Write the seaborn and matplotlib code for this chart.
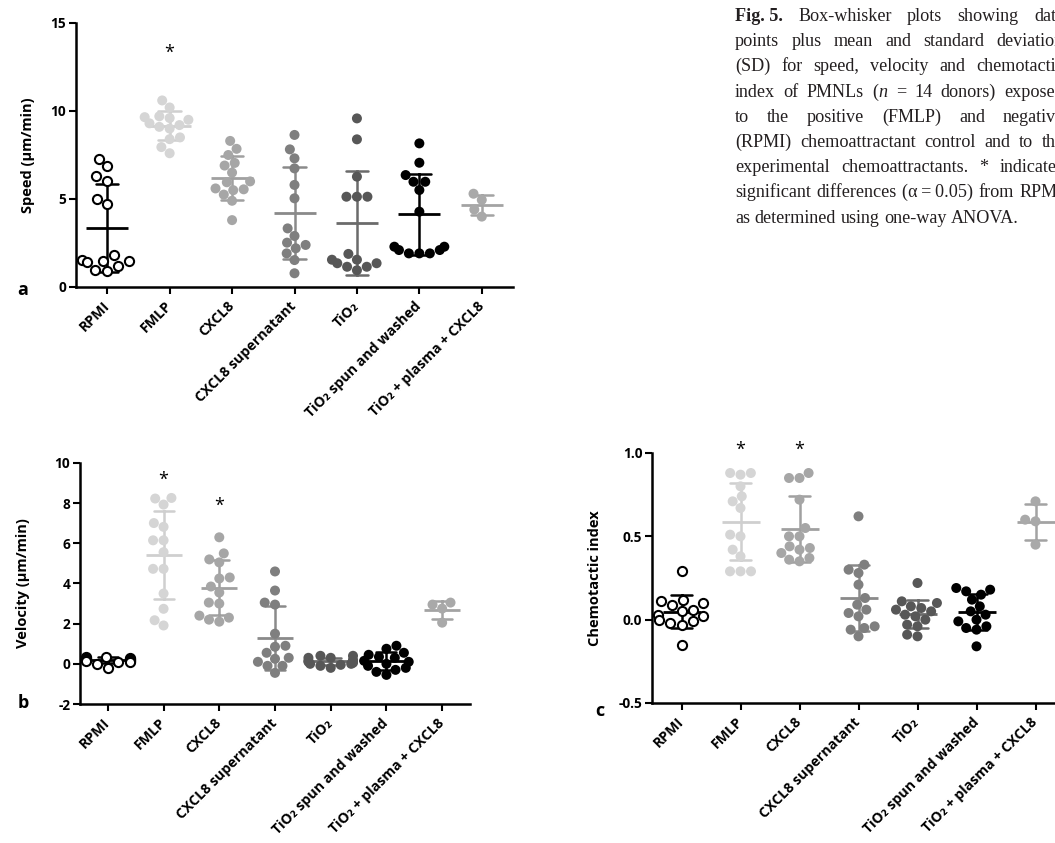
import warnings
warnings.filterwarnings("ignore")
import numpy as np
import pandas as pd
import matplotlib
matplotlib.use("Agg")
import matplotlib.pyplot as plt
from matplotlib.ticker import FormatStrFormatter
import seaborn as sns

# ---------------- data ----------------
categories = ["RPMI", "FMLP", "CXCL8", "CXCL8 supernatant", "TiO\u2082",
              "TiO\u2082 spun and washed", "TiO\u2082 + plasma + CXCL8"]

speed_rpmi = [7.3, 6.85, 6.3, 6.05, 5.0, 4.7, 1.8, 1.55, 1.5, 1.45, 1.4, 1.2, 0.95, 0.9]
speed_fmlp = [10.6, 10.2, 9.7, 9.65, 9.6, 9.5, 9.3, 9.2, 9.1, 9.0, 8.5, 8.4, 7.95, 7.6]
speed_cxcl8 = [8.3, 7.85, 7.5, 7.05, 6.9, 6.5, 6.0, 5.95, 5.6, 5.55, 5.5, 5.25, 4.9, 3.8]
speed_sup = [8.64, 7.82, 7.31, 6.74, 5.8, 5.04, 3.33, 2.9, 2.52, 2.39, 2.2, 1.91, 1.53, 0.78]
speed_tio2 = [9.58, 8.39, 6.27, 5.13, 5.13, 5.13, 1.88, 1.55, 1.55, 1.35, 1.35, 1.15, 1.15, 0.95]
speed_spun = [8.16, 7.06, 6.36, 5.98, 5.98, 5.51, 4.28, 2.29, 2.29, 2.1, 2.1, 1.91, 1.91, 1.91]
speed_plasma = [5.3, 4.95, 4.4, 4.0]

velocity_rpmi = [0.35, 0.35, 0.3, 0.3, 0.25, 0.25, 0.2, 0.2, 0.15, 0.15, 0.1, 0.1, 0.0, -0.2]
velocity_fmlp = [8.26, 8.23, 7.93, 7.01, 6.82, 6.15, 6.15, 5.56, 4.73, 4.73, 3.5, 2.74, 2.17, 1.91]
velocity_cxcl8 = [6.3, 5.5, 5.2, 5.05, 4.3, 4.25, 3.85, 3.55, 3.05, 3.0, 2.4, 2.3, 2.2, 2.1]
velocity_sup = [4.6, 3.65, 3.05, 2.95, 1.5, 0.9, 0.85, 0.55, 0.3, 0.25, 0.1, -0.1, -0.1, -0.45]
velocity_tio2 = [0.4, 0.4, 0.3, 0.3, 0.2, 0.15, 0.1, 0.1, 0.05, 0.0, 0.0, -0.05, -0.1, -0.2]
velocity_spun = [0.9, 0.75, 0.55, 0.45, 0.35, 0.3, 0.15, 0.1, 0.0, -0.1, -0.2, -0.3, -0.4, -0.55]
velocity_plasma = [3.05, 2.95, 2.75, 2.05]

chemotaxis_rpmi = [0.29, 0.12, 0.11, 0.10, 0.09, 0.06, 0.05, 0.03, 0.02, 0.0, -0.01, -0.02, -0.03, -0.15]
chemotaxis_fmlp = [0.88, 0.88, 0.87, 0.80, 0.74, 0.71, 0.67, 0.51, 0.5, 0.42, 0.38, 0.29, 0.29, 0.29]
chemotaxis_cxcl8 = [0.88, 0.85, 0.85, 0.72, 0.55, 0.5, 0.5, 0.44, 0.43, 0.42, 0.4, 0.37, 0.36, 0.35]
chemotaxis_sup = [0.62, 0.33, 0.30, 0.28, 0.21, 0.13, 0.09, 0.06, 0.04, 0.02, -0.04, -0.05, -0.06, -0.10]
chemotaxis_tio2 = [0.22, 0.11, 0.10, 0.08, 0.07, 0.06, 0.05, 0.03, 0.02, 0.0, -0.03, -0.04, -0.09, -0.10]
chemotaxis_spun = [0.19, 0.18, 0.17, 0.15, 0.12, 0.08, 0.05, 0.03, 0.0, -0.01, -0.04, -0.05, -0.06, -0.16]
chemotaxis_plasma = [0.71, 0.60, 0.59, 0.45]

speed_stars = [("FMLP", 13.3)]
velocity_stars = [("FMLP", 9.15), ("CXCL8", 7.85)]
chemotaxis_stars = [("FMLP", 1.02), ("CXCL8", 1.02)]

caption_lines = [
    [[("Fig. 5.", "b")], [("Box-whisker", "r")], [("plots", "r")], [("showing", "r")], [("data", "r")]],
    [[("points", "r")], [("plus", "r")], [("mean", "r")], [("and", "r")], [("standard", "r")], [("deviation", "r")]],
    [[("(SD)", "r")], [("for", "r")], [("speed,", "r")], [("velocity", "r")], [("and", "r")], [("chemotactic", "r")]],
    [[("index", "r")], [("of", "r")], [("PMNLs", "r")], [("(", "r"), ("n", "i")], [("=", "r")], [("14", "r")],
     [("donors)", "r")], [("exposed", "r")]],
    [[("to", "r")], [("the", "r")], [("positive", "r")], [("(FMLP)", "r")], [("and", "r")], [("negative", "r")]],
    [[("(RPMI)", "r")], [("chemoattractant", "r")], [("control", "r")], [("and", "r")], [("to", "r")], [("the", "r")]],
    [[("experimental", "r")], [("chemoattractants.", "r")], [("*", "r")], [("indicates", "r")]],
    [[("significant", "r")], [("differences", "r")], [("(\u03b1\u2009=\u20090.05)", "r")], [("from", "r")], [("RPMI", "r")]],
    [[("as", "r")], [("determined", "r")], [("using", "r")], [("one-way", "r")], [("ANOVA.", "r")]],
]

# ---------------- style ----------------
sns.set_style("ticks")
plt.rcParams["font.family"] = ["Open Sans", "DejaVu Sans"]
plt.rcParams["axes.unicode_minus"] = False
for k in ["text.color", "axes.labelcolor", "xtick.color", "ytick.color", "axes.edgecolor"]:
    plt.rcParams[k] = "black"

point_colors = ["white", "#d5d5d5", "#a6a6a6", "#7f7f7f", "#575757", "#000000", "#a9a9a9"]
line_colors = ["#000000", "#cfcfcf", "#a0a0a0", "#8a8a8a", "#6b6b6b", "#000000", "#a3a3a3"]

W, H = 1055, 843
fig = plt.figure(figsize=(W / 100, H / 100), dpi=100)


def make_df(groups):
    rows = []
    for cat, vals in zip(categories, groups):
        for v in vals:
            rows.append((cat, v))
    return pd.DataFrame(rows, columns=["cond", "value"])


def panel(rect, groups, ylim, yticks, ylabel, fmt, label_right_px, stars):
    ax = fig.add_axes(rect)
    df = make_df(groups)
    pal_pts = dict(zip(categories, point_colors))
    pal_lines = dict(zip(categories, line_colors))
    sns.swarmplot(data=df[df.cond == categories[0]], x="cond", y="value", order=categories,
                  color="white", edgecolor="black", linewidth=1.5, size=6.6, ax=ax)
    sns.swarmplot(data=df[df.cond != categories[0]], x="cond", y="value", hue="cond",
                  order=categories, hue_order=categories, palette=pal_pts, size=7.2,
                  linewidth=0, legend=False, ax=ax)
    axw_px = rect[2] * W
    ms = 0.66 * axw_px / 7 * 72 / 100
    sns.pointplot(data=df, x="cond", y="value", hue="cond", order=categories,
                  hue_order=categories, palette=pal_lines, errorbar="sd", capsize=0.36,
                  markers="_", markersize=ms, markeredgewidth=2.0, linestyle="none",
                  err_kws={"linewidth": 1.8}, legend=False, dodge=False, ax=ax)
    ax.set_xlim(-0.5, 6.5)
    ax.set_ylim(*ylim)
    ax.set_yticks(yticks)
    ax.yaxis.set_major_formatter(FormatStrFormatter(fmt))
    ax.set_xticks(range(len(categories)))
    ax.set_xticklabels(categories, rotation=45, ha="right", va="center",
                       rotation_mode="anchor", fontsize=10.2, fontweight="bold")
    for t in ax.get_yticklabels():
        t.set_fontweight("bold")
        t.set_fontsize(9.8)
    ax.tick_params(width=1.5, length=5, color="black")
    ax.tick_params(axis="x", pad=7)
    ax.tick_params(axis="y", pad=2)
    for s in ["left", "bottom"]:
        ax.spines[s].set_linewidth(1.8)
    sns.despine(ax=ax)
    ax.set_xlabel("")
    ax.set_ylabel(ylabel, fontsize=10.5, fontweight="bold")
    ax.yaxis.set_label_coords(label_right_px / axw_px, 0.5)
    for cat, yv in stars:
        ax.text(categories.index(cat), yv, "*", ha="center", va="center", fontsize=13)
    return ax


ax_a = panel([76 / W, 1 - 287 / H, 437 / W, 264 / H],
             [speed_rpmi, speed_fmlp, speed_cxcl8, speed_sup, speed_tio2, speed_spun, speed_plasma],
             (0, 15), [0, 5, 10, 15], "Speed (\u03bcm/min)", "%d", -41, speed_stars)
ax_b = panel([80 / W, 1 - 704 / H, 390 / W, 241 / H],
             [velocity_rpmi, velocity_fmlp, velocity_cxcl8, velocity_sup, velocity_tio2,
              velocity_spun, velocity_plasma],
             (-2, 10), [-2, 0, 2, 4, 6, 8, 10], "Velocity (\u03bcm/min)", "%d", -50, velocity_stars)
ax_c = panel([652 / W, 1 - 703 / H, 413 / W, 250 / H],
             [chemotaxis_rpmi, chemotaxis_fmlp, chemotaxis_cxcl8, chemotaxis_sup, chemotaxis_tio2,
              chemotaxis_spun, chemotaxis_plasma],
             (-0.5, 1.0), [-0.5, 0.0, 0.5, 1.0], "Chemotactic index", "%.1f", -50, chemotaxis_stars)

for letter, (px, py) in {"a": (23, 290), "b": (23, 703), "c": (600, 711)}.items():
    fig.text(px / W, 1 - py / H, letter, ha="center", va="center", fontsize=13, fontweight="bold")

# ---------------- caption ----------------
renderer = fig.canvas.get_renderer()
serif = "Liberation Serif"
styles = {"r": {}, "b": {"fontweight": "bold"}, "i": {"fontstyle": "italic"}}


def seg_width(text, style, fs):
    t = fig.text(0, 0, text, family=[serif, "DejaVu Serif"], fontsize=fs, **styles[style])
    w = t.get_window_extent(renderer=renderer).width
    t.remove()
    return w


x_left, x_right = 735, 1064
base_fs = 10
base_space = seg_width("a a", "r", base_fs) - seg_width("aa", "r", base_fs)
natural = []
for line in caption_lines[:-1]:
    wsum = sum(seg_width(s, st, base_fs) for word in line for s, st in word)
    natural.append(wsum + base_space * (len(line) - 1))
cap_fs = base_fs * (x_right - x_left) * 0.99 / max(natural)
space_w = base_space * cap_fs / base_fs

for i, line in enumerate(caption_lines):
    widths = [[seg_width(s, st, cap_fs) for s, st in word] for word in line]
    total = sum(sum(w) for w in widths)
    last = i == len(caption_lines) - 1
    gap = space_w if last else (x_right - x_left - total) / (len(line) - 1)
    x = x_left
    y = 21 + 25.2 * i
    for word, ws in zip(line, widths):
        for (s, st), w in zip(word, ws):
            fig.text(x / W, 1 - y / H, s, family=[serif, "DejaVu Serif"], fontsize=cap_fs,
                     color="#231f20", ha="left", va="baseline", **styles[st])
            x += w
        x += gap

fig.savefig("out.png", dpi=100)
